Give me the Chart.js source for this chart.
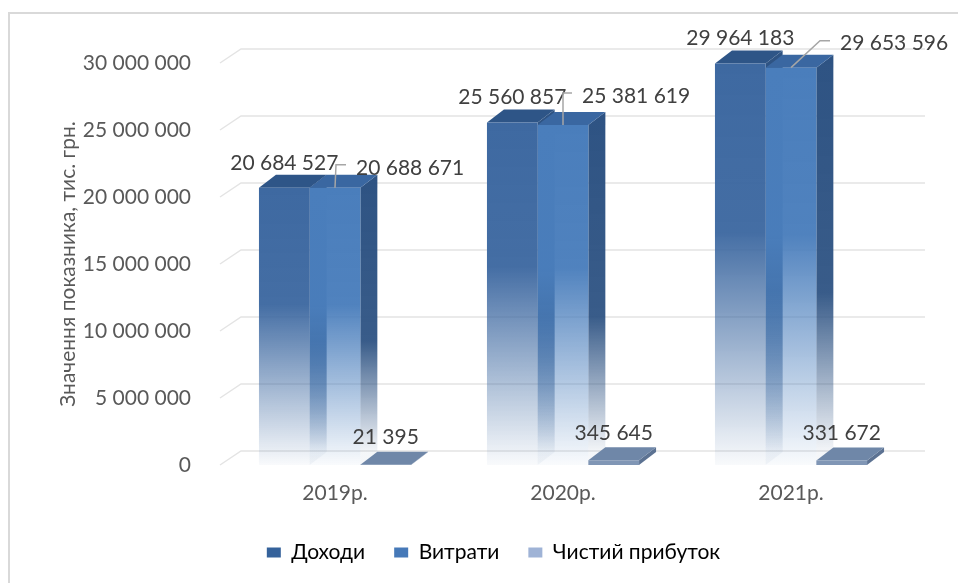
<!DOCTYPE html>
<html>
<head>
<meta charset="utf-8">
<script src="https://cdn.jsdelivr.net/npm/chart.js@4.4.1/dist/chart.umd.min.js"></script>
<style>
  html, body { margin: 0; padding: 0; background: #fff; }
</style>
</head>
<body>
<canvas id="chart" width="958" height="583"></canvas>
<script>
// дані по роках
const years = ['2019р.', '2020р.', '2021р.'];
const income = [20684527, 25560857, 29964183];
const expenses = [20688671, 25381619, 29653596];
const netProfit = [21395, 345645, 331672];
const seriesNames = ['Доходи', 'Витрати', 'Чистий прибуток'];
const yMax = 30000000;
const yStep = 5000000;

const FONT = 'Lato, "Noto Sans", sans-serif';

// кольори граней: передня (rgb), верхня, бічна (rgb)
const faces = [
  { front: [62, 105, 161], top: '#2e5587', side: [46, 83, 131] },
  { front: [74, 126, 188], top: '#3a67a1', side: [46, 83, 131] },
  { front: [128, 150, 181], top: '#6f87a8', side: [92, 114, 146] }
];
const legendColors = ['#35629b', '#4679b8', '#9fb3d6'];

// глибина стовпчиків і стінки
const DX = 17, DY = -13;
const WALL_DX = 20, WALL_DY = -14;

// зсув підписів "Витрати" від верхівки стовпчика
const vitShift = [[21, -20], [19, -29], [49, -24]];

function rgba(c, a) {
  return 'rgba(' + c[0] + ',' + c[1] + ',' + c[2] + ',' + a + ')';
}

function fmt(v) {
  return String(v).replace(/\B(?=(\d{3})+(?!\d))/g, ' ');
}

function frontFill(c) {
  const f = faces[c.datasetIndex].front;
  const chart = c.chart;
  if (!chart.chartArea || c.type !== 'data') return rgba(f, 1);
  const y = chart.scales.y;
  const top = y.getPixelForValue(c.raw);
  const base = y.getPixelForValue(0);
  if (base - top < 10) return rgba(f, 1);
  const g = chart.ctx.createLinearGradient(0, top, 0, base);
  g.addColorStop(0, rgba(f, 1));
  g.addColorStop(0.42, rgba(f, 0.97));
  g.addColorStop(1, rgba(f, 0.03));
  return g;
}

const frame = {
  id: 'frame',
  beforeDraw(chart) {
    const ctx = chart.ctx;
    ctx.save();
    ctx.strokeStyle = '#d9d9d9';
    ctx.lineWidth = 2;
    ctx.strokeRect(9, 13, 1000, 700);
    ctx.restore();
  }
};

// сітка на задній стінці та бічні грані стовпчиків
const box3d = {
  id: 'box3d',
  beforeDatasetsDraw(chart) {
    const ctx = chart.ctx;
    const {left, right} = chart.chartArea;
    const y = chart.scales.y;
    ctx.save();
    ctx.strokeStyle = '#e4e4e4';
    ctx.lineWidth = 1.5;
    y.ticks.forEach(t => {
      const py = y.getPixelForValue(t.value);
      ctx.beginPath();
      ctx.moveTo(left - 1, py);
      ctx.lineTo(left + WALL_DX, py + WALL_DY);
      ctx.lineTo(right + WALL_DX, py + WALL_DY);
      ctx.stroke();
    });

    const metas = chart.data.datasets.map((d, i) => chart.getDatasetMeta(i));
    // бічні грані
    metas.forEach((meta, i) => {
      const sc = faces[i].side;
      meta.data.forEach(el => {
        const r = el.x + el.width / 2;
        const h = el.base - el.y;
        if (h > 10) {
          const g = ctx.createLinearGradient(0, el.y + DY, 0, el.base + DY);
          g.addColorStop(0, rgba(sc, 1));
          g.addColorStop(0.6, rgba(sc, 0.95));
          g.addColorStop(1, rgba(sc, 0.05));
          ctx.fillStyle = g;
        } else {
          ctx.fillStyle = rgba(sc, 1);
        }
        ctx.beginPath();
        ctx.moveTo(r, el.y);
        ctx.lineTo(r + DX, el.y + DY);
        ctx.lineTo(r + DX, el.base + DY);
        ctx.lineTo(r, el.base);
        ctx.closePath();
        ctx.fill();
      });
    });
    // верхні грані
    metas.forEach((meta, i) => {
      ctx.fillStyle = faces[i].top;
      meta.data.forEach(el => {
        const l = el.x - el.width / 2;
        const r = el.x + el.width / 2;
        ctx.beginPath();
        ctx.moveTo(l, el.y);
        ctx.lineTo(l + DX, el.y + DY);
        ctx.lineTo(r + DX, el.y + DY);
        ctx.lineTo(r, el.y);
        ctx.closePath();
        ctx.fill();
      });
    });
    ctx.restore();
  }
};

// підписи значень
const valueLabels = {
  id: 'valueLabels',
  afterDatasetsDraw(chart) {
    const ctx = chart.ctx;
    ctx.save();
    ctx.font = '21px ' + FONT;
    ctx.fillStyle = '#404040';
    ctx.textBaseline = 'middle';
    chart.data.datasets.forEach((ds, i) => {
      chart.getDatasetMeta(i).data.forEach((el, j) => {
        const txt = fmt(ds.data[j]);
        if (i === 1) {
          const lx = el.x + vitShift[j][0];
          const ly = el.y + vitShift[j][1];
          const elbow = Math.max(el.x, lx - 20);
          ctx.strokeStyle = '#a6a6a6';
          ctx.lineWidth = 1.5;
          ctx.beginPath();
          ctx.moveTo(lx - 10, ly - 3);
          ctx.lineTo(elbow, ly - 3);
          ctx.lineTo(el.x, el.y);
          ctx.stroke();
          ctx.textAlign = 'left';
          ctx.fillText(txt, lx, ly);
        } else {
          ctx.textAlign = 'center';
          ctx.fillText(txt, el.x, el.y - (i === 0 ? 25 : 27));
        }
      });
    });
    ctx.restore();
  }
};

const barStyle = { backgroundColor: frontFill, borderWidth: 0, categoryPercentage: 0.667, barPercentage: 1.0 };

const chart = new Chart(document.getElementById('chart'), {
  type: 'bar',
  data: {
    labels: years,
    datasets: [
      Object.assign({ label: seriesNames[0], data: income }, barStyle),
      Object.assign({ label: seriesNames[1], data: expenses }, barStyle),
      Object.assign({ label: seriesNames[2], data: netProfit }, barStyle)
    ]
  },
  options: {
    responsive: false,
    animation: false,
    layout: { padding: { left: 82, right: 53, top: 63, bottom: 10 } },
    scales: {
      x: {
        grid: { display: false },
        border: { display: false },
        ticks: { color: '#595959', font: { family: FONT, size: 21 }, padding: 8 },
        afterFit: s => { s.height = 48; }
      },
      y: {
        min: 0,
        max: yMax,
        grid: { display: false },
        border: { display: false },
        ticks: {
          stepSize: yStep,
          color: '#595959',
          font: { family: FONT, size: 21 },
          padding: 22,
          callback: v => fmt(v)
        },
        title: {
          display: true,
          text: 'Значення показника, тис. грн.',
          color: '#595959',
          font: { family: FONT, size: 21 },
          padding: { top: -26, bottom: 0 }
        },
        afterFit: s => { s.width = 139; }
      }
    },
    plugins: {
      tooltip: { enabled: false },
      legend: {
        position: 'bottom',
        labels: {
          boxWidth: 14,
          boxHeight: 10,
          padding: 29,
          color: '#595959',
          font: { family: FONT, size: 21 },
          generateLabels: ch => ch.data.datasets.map((d, i) => ({
            text: d.label,
            fillStyle: legendColors[i],
            strokeStyle: legendColors[i],
            lineWidth: 0,
            datasetIndex: i,
            hidden: false
          }))
        }
      }
    }
  },
  plugins: [frame, box3d, valueLabels]
});
</script>
</body>
</html>
